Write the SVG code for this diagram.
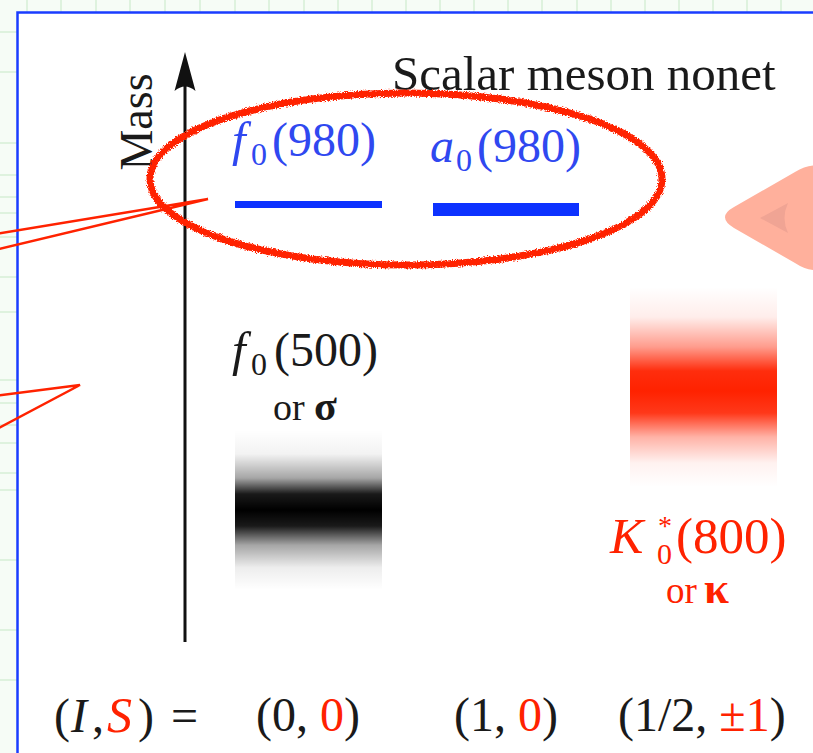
<svg xmlns="http://www.w3.org/2000/svg" width="813" height="753" viewBox="0 0 813 753">
  <style>
    .serif { font-family: "Liberation Serif", "Times New Roman", serif; }
    .it { font-style: italic; }
    .blue { fill: #2f48f0; }
    .red { fill: #ff2200; }
    .blk { fill: #1a1a1a; }
    .grid { stroke: #d6efd6; stroke-width: 1.5; }
    .callout { fill: none; stroke: #ff2200; stroke-width: 2.5; stroke-linejoin: miter; }
  </style>
  <defs>
    <linearGradient id="gBlack" x1="0" y1="0" x2="0" y2="1">
      <stop offset="0" stop-color="#000" stop-opacity="0"/>
      <stop offset="0.15" stop-color="#000" stop-opacity="0.05"/>
      <stop offset="0.3" stop-color="#000" stop-opacity="0.35"/>
      <stop offset="0.4" stop-color="#000" stop-opacity="0.9"/>
      <stop offset="0.5" stop-color="#000" stop-opacity="1"/>
      <stop offset="0.6" stop-color="#000" stop-opacity="0.9"/>
      <stop offset="0.72" stop-color="#000" stop-opacity="0.35"/>
      <stop offset="0.86" stop-color="#000" stop-opacity="0.07"/>
      <stop offset="1" stop-color="#000" stop-opacity="0"/>
    </linearGradient>
    <linearGradient id="gRed" x1="0" y1="0" x2="0" y2="1">
      <stop offset="0" stop-color="#ff2200" stop-opacity="0"/>
      <stop offset="0.15" stop-color="#ff2200" stop-opacity="0.08"/>
      <stop offset="0.3" stop-color="#ff2200" stop-opacity="0.45"/>
      <stop offset="0.42" stop-color="#ff2200" stop-opacity="0.95"/>
      <stop offset="0.52" stop-color="#ff2200" stop-opacity="1"/>
      <stop offset="0.63" stop-color="#ff2200" stop-opacity="0.9"/>
      <stop offset="0.75" stop-color="#ff2200" stop-opacity="0.35"/>
      <stop offset="0.88" stop-color="#ff2200" stop-opacity="0.06"/>
      <stop offset="1" stop-color="#ff2200" stop-opacity="0"/>
    </linearGradient>
    <filter id="rough" x="-5%" y="-10%" width="110%" height="120%">
      <feTurbulence type="fractalNoise" baseFrequency="0.8" numOctaves="2" seed="4" result="n"/>
      <feDisplacementMap in="SourceGraphic" in2="n" scale="5" xChannelSelector="R" yChannelSelector="G"/>
    </filter>
    <filter id="soft" x="-5%" y="-50%" width="110%" height="200%">
      <feGaussianBlur stdDeviation="0.7"/>
    </filter>
  </defs>

  <!-- background outside the frame -->
  <rect x="0" y="0" width="813" height="753" fill="#f6fcf6"/>
  <g id="bg-grid" class="grid">
    <line x1="0" y1="32" x2="17" y2="32"/>
    <line x1="0" y1="72" x2="17" y2="72"/>
    <line x1="0" y1="143" x2="17" y2="143"/>
    <line x1="0" y1="175" x2="17" y2="175"/>
    <line x1="0" y1="197" x2="17" y2="197"/>
    <line x1="0" y1="213" x2="17" y2="213"/>
    <line x1="0" y1="237" x2="17" y2="237"/>
    <line x1="0" y1="277" x2="17" y2="277"/>
    <line x1="0" y1="312" x2="17" y2="312"/>
    <line x1="0" y1="380" x2="17" y2="380"/>
    <line x1="0" y1="403" x2="17" y2="403"/>
    <line x1="0" y1="425" x2="17" y2="425"/>
    <line x1="0" y1="443" x2="17" y2="443"/>
    <line x1="0" y1="473" x2="17" y2="473"/>
    <line x1="0" y1="490" x2="17" y2="490"/>
    <line x1="0" y1="560" x2="17" y2="560"/>
    <line x1="0" y1="630" x2="17" y2="630"/>
    <line x1="0" y1="680" x2="17" y2="680"/>
    <line x1="27" y1="0" x2="27" y2="12"/>
    <line x1="61" y1="0" x2="61" y2="12"/>
    <line x1="96" y1="0" x2="96" y2="12"/>
    <line x1="130" y1="0" x2="130" y2="12"/>
    <line x1="165" y1="0" x2="165" y2="12"/>
    <line x1="200" y1="0" x2="200" y2="12"/>
    <line x1="235" y1="0" x2="235" y2="12"/>
    <line x1="269" y1="0" x2="269" y2="12"/>
    <line x1="304" y1="0" x2="304" y2="12"/>
    <line x1="338" y1="0" x2="338" y2="12"/>
    <line x1="372" y1="0" x2="372" y2="12"/>
    <line x1="406" y1="0" x2="406" y2="12"/>
    <line x1="440" y1="0" x2="440" y2="12"/>
    <line x1="474" y1="0" x2="474" y2="12"/>
    <line x1="508" y1="0" x2="508" y2="12"/>
    <line x1="542" y1="0" x2="542" y2="12"/>
    <line x1="577" y1="0" x2="577" y2="12"/>
    <line x1="611" y1="0" x2="611" y2="12"/>
    <line x1="645" y1="0" x2="645" y2="12"/>
    <line x1="679" y1="0" x2="679" y2="12"/>
    <line x1="713" y1="0" x2="713" y2="12"/>
    <line x1="747" y1="0" x2="747" y2="12"/>
    <line x1="781" y1="0" x2="781" y2="12"/>
  </g>

  <!-- frame -->
  <rect id="frame" x="17.5" y="12.5" width="820" height="760" fill="#ffffff" stroke="#1a3cff" stroke-width="2.5"/>

  <!-- mass axis -->
  <g id="mass-axis">
    <line x1="185" y1="642" x2="185" y2="80" stroke="#111" stroke-width="3"/>
    <path d="M185 52 L195.5 91 Q185 82 174.5 91 Z" fill="#111"/>
    <text class="serif blk" font-size="46" text-anchor="middle" transform="translate(152,122) rotate(-90)">Mass</text>
  </g>

  <g id="title">
    <text class="serif blk" x="392" y="90" font-size="49">Scalar meson nonet</text>
  </g>

  <!-- f0(980) -->
  <g id="f0-980">
    <text class="serif blue it" x="232" y="156" font-size="49">f</text>
    <text class="serif blue" x="251" y="165" font-size="32">0</text>
    <text class="serif blue" x="272" y="156" font-size="48">(980)</text>
    <rect x="235" y="201" width="147" height="7" fill="#1030ff" filter="url(#soft)"/>
  </g>

  <!-- a0(980) -->
  <g id="a0-980">
    <text class="serif blue it" x="430" y="162" font-size="48">a</text>
    <text class="serif blue" x="456" y="171" font-size="32">0</text>
    <text class="serif blue" x="477" y="162" font-size="48">(980)</text>
    <rect x="433" y="203" width="146" height="13" fill="#1030ff" filter="url(#soft)"/>
  </g>

  <!-- f0(500) or sigma -->
  <g id="f0-500">
    <text class="serif blk it" x="232" y="366" font-size="49">f</text>
    <text class="serif blk" x="251" y="375" font-size="32">0</text>
    <text class="serif blk" x="274" y="366" font-size="48">(500)</text>
    <text class="serif blk" x="273" y="420" font-size="38">or</text>
    <text class="serif blk" x="314" y="420" font-size="42" font-weight="bold">σ</text>
    <rect x="235" y="430" width="147" height="160" fill="url(#gBlack)"/>
  </g>

  <!-- K0*(800) or kappa -->
  <g id="k0-800">
    <rect x="630" y="287" width="147" height="200" fill="url(#gRed)"/>
    <text class="serif red it" x="610" y="553" font-size="50">K</text>
    <text class="serif red" x="658" y="535" font-size="28">*</text>
    <text class="serif red" x="657" y="564" font-size="30">0</text>
    <text class="serif red" x="676" y="553" font-size="51">(800)</text>
    <text class="serif red" x="666" y="603" font-size="37">or</text>
    <text class="serif red" x="704" y="603" font-size="45" font-weight="bold">κ</text>
  </g>

  <!-- (I,S) labels -->
  <g id="is-labels" font-size="48">
    <text class="serif blk" y="732"><tspan x="54">(</tspan><tspan x="71" class="it">I</tspan><tspan x="92">,</tspan><tspan x="107" class="it red" font-size="50">S</tspan><tspan x="138">)</tspan><tspan x="171">=</tspan></text>
    <text class="serif blk" x="256" y="731">(0, <tspan class="red">0</tspan>)</text>
    <text class="serif blk" x="454" y="731">(1, <tspan class="red">0</tspan>)</text>
    <text class="serif blk" x="618" y="731">(1/2, <tspan class="red">±1</tspan>)</text>
  </g>

  <!-- connectors / annotations -->
  <g id="connectors">
    <ellipse cx="406" cy="179" rx="256" ry="86" fill="none" stroke="#ff2200" stroke-width="7" filter="url(#rough)"/>
    <path class="callout" d="M-5 234 L208 199 L-5 250"/>
    <path class="callout" d="M-5 396 L80 385 L-5 430"/>
  </g>

  <!-- pink arrow at right edge -->
  <g id="pink-arrow">
    <path d="M734 207 L795 172 Q813 161 830 168 L830 267 Q813 275 795 263 L734 228 Q716 217 734 207 Z" fill="#ffb09c"/>
    <path d="M760 218 L788 203 Q781 218 788 233 Z" fill="#f0a494"/>
  </g>
</svg>
